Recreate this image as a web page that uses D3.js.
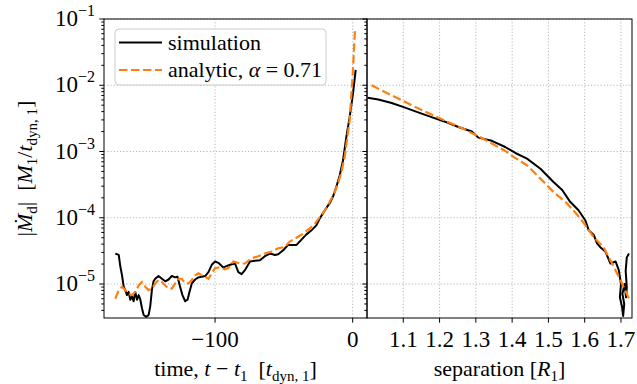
<!DOCTYPE html>
<html lang="en">
    <head>
        <meta charset="utf-8">
        <title>Mdot</title>
        <script src="https://d3js.org/d3.v7.min.js"></script>
        <style type="text/css">
            body { margin: 0; background: #fff; }
            text { font-family: "Liberation Serif", "DejaVu Serif", serif; fill: #000; }
        </style>
    </head>
    <body>
        <script>
            // data
            var simTime = [-172.5, -170, -168.8, -167.6, -166.4, -165.2, -164, -162.8, -161.6, -160.4, -159.2, -158, -156.7, -155.5, -154.3, -153.1, -151.9, -150.2, -148.3, -147.1, -145.9, -144.7, -143.5, -141.1, -138.6, -136.2, -133.8, -131.4, -129, -127.3, -125.4, -123.7, -121.7, -120, -118.6, -116.9, -114.5, -112.1, -109.6, -107.2, -104.8, -102.4, -100, -97.6, -94, -89.1, -85.5, -83.1, -80.7, -78.3, -74.6, -71, -67.4, -63.8, -60.1, -56.5, -54.1, -50.5, -46.9, -43.3, -40.8, -37.2, -33.6, -29.9, -26.3, -23.9, -20.3, -16.7, -14.3, -11.8, -9.4, -7, -4.6, -2.2, 0.2, 2.2];
            var simMdot = [2.88e-5, 2.75e-5, 1.82e-5, 1.35e-5, 9.1e-6, 8.1e-6, 6.8e-6, 7.6e-6, 5.8e-6, 6.5e-6, 5.5e-6, 7.6e-6, 5.8e-6, 6.8e-6, 5.8e-6, 4.3e-6, 3.4e-6, 3.2e-6, 3.4e-6, 4.6e-6, 8.1e-6, 1.10e-5, 1.20e-5, 1.32e-5, 1.20e-5, 1.10e-5, 1.17e-5, 1.32e-5, 1.26e-5, 1.29e-5, 9.1e-6, 6.8e-6, 5.5e-6, 5.8e-6, 7.6e-6, 1.02e-5, 1.17e-5, 1.26e-5, 1.29e-5, 1.32e-5, 1.51e-5, 1.95e-5, 2.19e-5, 2.09e-5, 1.78e-5, 1.95e-5, 2.04e-5, 1.51e-5, 1.41e-5, 1.62e-5, 2.19e-5, 2.24e-5, 2.29e-5, 2.63e-5, 2.88e-5, 2.75e-5, 2.82e-5, 3.24e-5, 3.89e-5, 3.89e-5, 3.89e-5, 4.68e-5, 5.62e-5, 6.46e-5, 7.76e-5, 9.8e-5, 1.29e-4, 1.66e-4, 2.09e-4, 2.95e-4, 4.37e-4, 7.4e-4, 1.66e-3, 3.31e-3, 7.4e-3, 1.70e-2];

            var anaTime = [-172.5, -170, -167.6, -165.2, -162.8, -160.4, -158, -155.5, -153.1, -150.7, -148.3, -145.9, -143.5, -141.1, -138.6, -136.2, -133.8, -131.4, -129, -126.6, -124.2, -121.7, -119.3, -116.9, -114.5, -112.1, -109.6, -107.2, -104.8, -102.4, -100, -96.4, -92.8, -90.4, -86.7, -81.9, -78.3, -73.4, -68.6, -63.8, -58.9, -54.1, -49.3, -45.7, -40.8, -36, -31.2, -27.5, -23.9, -20.3, -16.7, -13, -10.6, -8.2, -5.8, -4, -2.2, 0.2, 1.7];
            var anaMdot = [6.0e-6, 8.1e-6, 9.1e-6, 8.1e-6, 7.2e-6, 6.8e-6, 7.6e-6, 9.5e-6, 1.07e-5, 9.1e-6, 8.1e-6, 8.5e-6, 1.02e-5, 1.15e-5, 1.07e-5, 9.5e-6, 8.5e-6, 8.5e-6, 1.02e-5, 1.20e-5, 1.20e-5, 1.02e-5, 1.02e-5, 1.15e-5, 1.35e-5, 1.45e-5, 1.35e-5, 1.29e-5, 1.20e-5, 1.45e-5, 1.74e-5, 1.78e-5, 1.66e-5, 1.74e-5, 2.19e-5, 2.04e-5, 2.04e-5, 2.45e-5, 2.63e-5, 2.88e-5, 3.09e-5, 3.47e-5, 3.63e-5, 4.37e-5, 5.0e-5, 5.75e-5, 6.9e-5, 8.1e-5, 1.02e-4, 1.29e-4, 1.74e-4, 2.45e-4, 3.31e-4, 4.9e-4, 8.3e-4, 1.58e-3, 2.95e-3, 1.70e-2, 7.2e-2];

            var sepSim = [1.0017, 1.031, 1.068, 1.105, 1.141, 1.178, 1.215, 1.252, 1.289, 1.307, 1.344, 1.381, 1.409, 1.441, 1.478, 1.514, 1.538, 1.56, 1.583, 1.602, 1.611, 1.625, 1.634, 1.643, 1.657, 1.671, 1.685, 1.694, 1.700, 1.697, 1.703, 1.706, 1.709, 1.704, 1.710, 1.714, 1.716, 1.713, 1.716, 1.722];
            var sepSimMdot = [6.5e-3, 6.1e-3, 5.4e-3, 4.6e-3, 3.9e-3, 3.3e-3, 2.82e-3, 2.34e-3, 2.0e-3, 1.62e-3, 1.45e-3, 1.17e-3, 9.5e-4, 7.8e-4, 5.5e-4, 3.47e-4, 2.63e-4, 1.74e-4, 1.30e-4, 9.1e-5, 6.5e-5, 5.5e-5, 4.1e-5, 3.6e-5, 3.1e-5, 2.04e-5, 2.19e-5, 1.62e-5, 1.0e-5, 6.3e-6, 4.5e-6, 3.3e-6, 5.0e-6, 7.1e-6, 1.0e-5, 6.3e-6, 8.9e-6, 1.58e-5, 2.51e-5, 2.88e-5];

            var sepAna = [1.0127, 1.049, 1.086, 1.123, 1.16, 1.197, 1.234, 1.27, 1.307, 1.344, 1.381, 1.404, 1.441, 1.478, 1.514, 1.551, 1.588, 1.625, 1.652, 1.68, 1.703, 1.722];
            var sepAnaMdot = [1.0e-2, 7.9e-3, 6.3e-3, 5.0e-3, 4.0e-3, 3.24e-3, 2.63e-3, 2.14e-3, 1.70e-3, 1.32e-3, 1.02e-3, 8.3e-4, 6.2e-4, 3.9e-4, 2.45e-4, 1.66e-4, 9.8e-5, 5.1e-5, 3.6e-5, 1.82e-5, 1.02e-5, 6.0e-6];

            var timeTicks = [-100, 0];
            var sepTicks = [1.1, 1.2, 1.3, 1.4, 1.5, 1.6, 1.7];
            var decadeExps = [-1, -2, -3, -4, -5];

            // configuration
            var outerWidth = 637;
            var outerHeight = 384;
            var plotTop = 19, plotBottom = 318;
            var leftX0 = 104, splitX = 367, rightX1 = 632;
            var orange = "#ff7f0e";

            var svg = d3.select("body")
                        .append("svg")
                        .attr("width", outerWidth)
                        .attr("height", outerHeight);

            var xTime = d3.scaleLinear().domain([-180.7, 10.4]).range([leftX0, splitX]);
            var xSep = d3.scaleLinear().domain([1.0, 1.7304]).range([splitX, rightX1]);
            var yScale = d3.scaleLog().domain([3.07e-6, 0.1]).range([plotBottom, plotTop]);

            var defs = svg.append("defs");
            defs.append("clipPath").attr("id", "clipL").append("rect")
                .attr("x", leftX0).attr("y", plotTop).attr("width", splitX - leftX0).attr("height", plotBottom - plotTop);
            defs.append("clipPath").attr("id", "clipR").append("rect")
                .attr("x", splitX).attr("y", plotTop).attr("width", rightX1 - splitX).attr("height", plotBottom - plotTop);

            var minorVals = [];
            for (var e = -6; e <= -2; e++) {
                for (var m = 2; m <= 9; m++) {
                    var v = m * Math.pow(10, e);
                    if (v >= 3.07e-6 && v <= 0.1) minorVals.push(v);
                }
            }

            function grid(x0, x1, xs, xVals) {
                var g = svg.append("g").attr("stroke", "#b0b0b0").attr("stroke-width", 0.9)
                    .attr("stroke-dasharray", "1.2,2");
                g.selectAll(".h").data(decadeExps).enter().append("line")
                    .attr("x1", x0).attr("x2", x1)
                    .attr("y1", function (d) { return yScale(Math.pow(10, d)); })
                    .attr("y2", function (d) { return yScale(Math.pow(10, d)); });
                g.selectAll(".v").data(xVals).enter().append("line")
                    .attr("x1", function (d) { return xs(d); })
                    .attr("x2", function (d) { return xs(d); })
                    .attr("y1", plotTop).attr("y2", plotBottom);
            }
            grid(leftX0, splitX, xTime, timeTicks);
            grid(splitX, rightX1, xSep, sepTicks);

            // curves
            var lineL = d3.line()
                .x(function (d) { return xTime(d[0]); })
                .y(function (d) { return yScale(d[1]); });
            var lineR = d3.line()
                .x(function (d) { return xSep(d[0]); })
                .y(function (d) { return yScale(d[1]); });

            var simL = simTime.map(function (t, i) { return [t, simMdot[i]]; });
            var anaL = anaTime.map(function (t, i) { return [t, anaMdot[i]]; });
            var simR = sepSim.map(function (s, i) { return [s, sepSimMdot[i]]; });
            var anaR = sepAna.map(function (s, i) { return [s, sepAnaMdot[i]]; });

            var gl = svg.append("g").attr("clip-path", "url(#clipL)");
            gl.append("path").attr("d", lineL(simL)).attr("fill", "none")
                .attr("stroke", "#000").attr("stroke-width", 2).attr("stroke-linejoin", "round");
            gl.append("path").attr("d", lineL(anaL)).attr("fill", "none")
                .attr("stroke", orange).attr("stroke-width", 2.2).attr("stroke-dasharray", "8.5,3.5");

            var gr = svg.append("g").attr("clip-path", "url(#clipR)");
            gr.append("path").attr("d", lineR(simR)).attr("fill", "none")
                .attr("stroke", "#000").attr("stroke-width", 2).attr("stroke-linejoin", "round");
            gr.append("path").attr("d", lineR(anaR)).attr("fill", "none")
                .attr("stroke", orange).attr("stroke-width", 2.2).attr("stroke-dasharray", "8.5,3.5");

            // frames
            [[leftX0, splitX], [splitX, rightX1]].forEach(function (p) {
                svg.append("rect").attr("x", p[0]).attr("y", plotTop)
                    .attr("width", p[1] - p[0]).attr("height", plotBottom - plotTop)
                    .attr("fill", "none").attr("stroke", "#000").attr("stroke-width", 1);
            });

            // y ticks on the left side of each panel
            [leftX0, splitX].forEach(function (x) {
                var t = svg.append("g").attr("stroke", "#000").attr("stroke-width", 1);
                t.selectAll(".M").data(decadeExps).enter().append("line")
                    .attr("x1", x - 4.7).attr("x2", x)
                    .attr("y1", function (d) { return yScale(Math.pow(10, d)); })
                    .attr("y2", function (d) { return yScale(Math.pow(10, d)); });
                t.selectAll(".m").data(minorVals).enter().append("line")
                    .attr("x1", x - 2.7).attr("x2", x)
                    .attr("y1", function (d) { return yScale(d); })
                    .attr("y2", function (d) { return yScale(d); });
            });

            // y tick labels
            var yl = svg.append("g").selectAll("text").data(decadeExps).enter().append("text")
                .attr("text-anchor", "end")
                .attr("x", 95)
                .attr("y", function (d) { return yScale(Math.pow(10, d)) + 7; })
                .style("font-size", "23px");
            yl.append("tspan").text("10");
            yl.append("tspan").attr("dy", -10).style("font-size", "16px")
                .text(function (d) { return "\u2212" + (-d); });

            // x ticks
            function xTicks(xs, vals, fmt) {
                var g = svg.append("g");
                g.selectAll("line").data(vals).enter().append("line")
                    .attr("x1", function (d) { return xs(d); })
                    .attr("x2", function (d) { return xs(d); })
                    .attr("y1", plotBottom).attr("y2", plotBottom + 4.7)
                    .attr("stroke", "#000").attr("stroke-width", 1);
                g.selectAll("text").data(vals).enter().append("text")
                    .attr("x", function (d) { return xs(d); })
                    .attr("y", plotBottom + 29)
                    .attr("text-anchor", "middle")
                    .style("font-size", "23px")
                    .text(fmt);
            }
            xTicks(xTime, timeTicks, function (d) { return d < 0 ? "\u2212" + (-d) : "" + d; });
            xTicks(xSep, sepTicks, function (d) { return d.toFixed(1); });

            // axis labels
            var xl = svg.append("text").attr("x", (leftX0 + splitX) / 2).attr("y", 376)
                .attr("text-anchor", "middle").style("font-size", "22px");
            xl.append("tspan").text("time, ");
            xl.append("tspan").style("font-style", "italic").text("t");
            xl.append("tspan").text(" \u2212 ");
            xl.append("tspan").style("font-style", "italic").text("t");
            xl.append("tspan").attr("dy", 5).style("font-size", "15px").text("1");
            xl.append("tspan").attr("dy", -5).text("\u00a0\u00a0[");
            xl.append("tspan").style("font-style", "italic").text("t");
            xl.append("tspan").attr("dy", 5).style("font-size", "15px").text("dyn, 1");
            xl.append("tspan").attr("dy", -5).text("]");

            var xr = svg.append("text").attr("x", (splitX + rightX1) / 2).attr("y", 376)
                .attr("text-anchor", "middle").style("font-size", "22px");
            xr.append("tspan").text("separation [");
            xr.append("tspan").style("font-style", "italic").text("R");
            xr.append("tspan").attr("dy", 5).style("font-size", "15px").text("1");
            xr.append("tspan").attr("dy", -5).text("]");

            var ylab = svg.append("text")
                .attr("transform", "translate(32," + ((plotTop + plotBottom) / 2) + ") rotate(-90)")
                .attr("text-anchor", "middle").style("font-size", "22px");
            ylab.append("tspan").text("|");
            ylab.append("tspan").style("font-style", "italic").text("\u1E40");
            ylab.append("tspan").attr("dy", 5).style("font-size", "15px").text("d");
            ylab.append("tspan").attr("dy", -5).text("|\u00a0\u00a0[");
            ylab.append("tspan").style("font-style", "italic").text("M");
            ylab.append("tspan").attr("dy", 5).style("font-size", "15px").text("1");
            ylab.append("tspan").attr("dy", -5).text("/");
            ylab.append("tspan").style("font-style", "italic").text("t");
            ylab.append("tspan").attr("dy", 5).style("font-size", "15px").text("dyn, 1");
            ylab.append("tspan").attr("dy", -5).text("]");

            // legend
            var lg = svg.append("g");
            lg.append("rect").attr("x", 115).attr("y", 29).attr("width", 211).attr("height", 56)
                .attr("rx", 4).attr("fill", "#fff").attr("fill-opacity", 0.8)
                .attr("stroke", "#cccccc").attr("stroke-width", 1);
            lg.append("line").attr("x1", 119).attr("x2", 162).attr("y1", 42.5).attr("y2", 42.5)
                .attr("stroke", "#000").attr("stroke-width", 2);
            lg.append("line").attr("x1", 119).attr("x2", 162).attr("y1", 70).attr("y2", 70)
                .attr("stroke", orange).attr("stroke-width", 2.2).attr("stroke-dasharray", "8.5,3.5");
            lg.append("text").attr("x", 168).attr("y", 50).style("font-size", "22px").text("simulation");
            var l2 = lg.append("text").attr("x", 168).attr("y", 77).style("font-size", "22px");
            l2.append("tspan").text("analytic, ");
            l2.append("tspan").style("font-style", "italic").text("\u03b1");
            l2.append("tspan").text(" = 0.71");
        </script>
    </body>
</html>
